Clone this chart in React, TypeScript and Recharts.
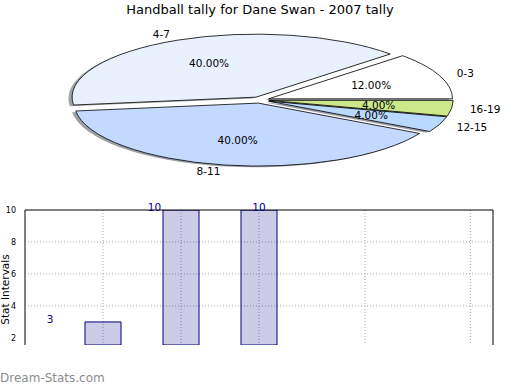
import { BarChart, Bar, XAxis, YAxis, CartesianGrid, ReferenceLine, LabelList, Label, PieChart, Pie, Cell } from 'recharts';

// pie: tally per interval
const INTERVALS = ['0-3', '4-7', '8-11', '12-15', '16-19'];
const TALLY = [3, 10, 10, 1, 1];
const SLICE_COLORS = ['#ffffff', '#eaf1fe', '#c4d9ff', '#b9d9ff', '#cde88a'];

// bars
const BAR_POS = [1, 2, 3];
const BAR_VALUES = [3, 10, 10];
const Y_TICKS = [2, 4, 6, 8, 10];
const X_GRID = [1, 2, 3, 4.36, 5.71];

const FONT = '"DejaVu Sans", sans-serif';
const RX = 184;
const RY = 63;
const EXPLODE = 0.05;
const RAD = Math.PI / 180;

const pieData = INTERVALS.map((name, i) => ({ name, value: TALLY[i], color: SLICE_COLORS[i] }));
const barData = BAR_POS.map((x, i) => ({ x, value: BAR_VALUES[i] }));

const shade = (hex: string) => {
  const n = parseInt(hex.slice(1), 16);
  const r = Math.round(((n >> 16) & 255) * 0.3);
  const g = Math.round(((n >> 8) & 255) * 0.3);
  const b = Math.round((n & 255) * 0.3);
  return `rgb(${r},${g},${b})`;
};

// elliptical wedge, exploded along its mid angle
const wedge = (props: any, shadow: boolean) => {
  const { cx, cy, startAngle, endAngle, payload } = props;
  const mid = ((startAngle + endAngle) / 2) * RAD;
  let ox = cx + EXPLODE * RX * Math.cos(mid);
  let oy = cy - EXPLODE * RY * Math.sin(mid);
  if (shadow) {
    ox -= 0.02 * RX;
    oy += 0.02 * RY;
  }
  const a0 = startAngle * RAD;
  const a1 = endAngle * RAD;
  const x0 = ox + RX * Math.cos(a0);
  const y0 = oy - RY * Math.sin(a0);
  const x1 = ox + RX * Math.cos(a1);
  const y1 = oy - RY * Math.sin(a1);
  const large = Math.abs(endAngle - startAngle) > 180 ? 1 : 0;
  const sweep = endAngle > startAngle ? 0 : 1;
  const d = `M${ox},${oy} L${x0},${y0} A${RX},${RY} 0 ${large} ${sweep} ${x1},${y1} Z`;
  const color = payload?.color ?? props.fill;
  if (shadow) return <path d={d} fill={shade(color)} fillOpacity={0.5} stroke="none" />;
  return <path d={d} fill={color} stroke="#000" strokeWidth={0.8} strokeLinejoin="round" />;
};

const sliceShape = (props: any) => wedge(props, false);
const shadowShape = (props: any) => wedge(props, true);

const pieLabel = (props: any) => {
  const { cx, cy, midAngle, percent, name } = props;
  const m = midAngle * RAD;
  const c = Math.cos(m);
  const s = Math.sin(m);
  const ox = cx + EXPLODE * RX * c;
  const oy = cy - EXPLODE * RY * s;
  return (
    <g>
      <text x={ox + 1.1 * RX * c} y={oy - 1.1 * RY * s} textAnchor={c >= 0 ? 'start' : 'end'} dominantBaseline="central" fontSize={10.5} fontFamily={FONT} fill="#000">
        {name}
      </text>
      <text x={ox + 0.6 * RX * c} y={oy - 0.6 * RY * s} textAnchor="middle" dominantBaseline="central" fontSize={10.5} fontFamily={FONT} fill="#000">
        {(percent * 100).toFixed(2)}%
      </text>
    </g>
  );
};

const barLabel = (props: any) => {
  const { x, y, width, value, index } = props;
  return (
    <text x={x + width / 2 + (index - 2) * 26.5} y={y + 1} textAnchor="middle" fontSize={10.5} fontFamily={FONT} fill="#000080">
      {value}
    </text>
  );
};

const yTitle = (props: any) => {
  const { viewBox } = props;
  const x = viewBox.x + 9;
  const y = viewBox.y + viewBox.height / 2 + 12;
  return (
    <text x={x} y={y} transform={`rotate(-90 ${x} ${y})`} textAnchor="middle" fontSize={10.5} fontFamily={FONT} fill="#000">
      Stat Intervals
    </text>
  );
};

export default function App() {
  return (
    <div style={{ position: 'absolute', left: 0, top: 0, width: 520, height: 390, background: '#fff', overflow: 'hidden' }}>
      <div style={{ position: 'absolute', top: 2, left: 0, width: 520, textAlign: 'center', fontFamily: FONT, fontSize: 13, color: '#000' }}>
        Handball tally for Dane Swan - 2007 tally
      </div>
      <div style={{ position: 'absolute', top: 0, left: 0 }}>
        <PieChart width={520} height={190} margin={{ top: 0, right: 0, bottom: 0, left: 0 }}>
          <Pie data={pieData} dataKey="value" nameKey="name" cx={260} cy={100} outerRadius={RX} startAngle={0} endAngle={360}
            isAnimationActive={false} label={false} labelLine={false}
            shape={shadowShape} activeShape={shadowShape} inactiveShape={shadowShape}>
            {pieData.map((d, i) => <Cell key={`s-${i}`} fill={d.color} />)}
          </Pie>
          <Pie data={pieData} dataKey="value" nameKey="name" cx={260} cy={100} outerRadius={RX} startAngle={0} endAngle={360}
            isAnimationActive={false} label={pieLabel} labelLine={false}
            shape={sliceShape} activeShape={sliceShape} inactiveShape={sliceShape}>
            {pieData.map((d, i) => <Cell key={`c-${i}`} fill={d.color} />)}
          </Pie>
        </PieChart>
      </div>
      <div style={{ position: 'absolute', top: 195, left: 0 }}>
        <BarChart width={520} height={150} data={barData} margin={{ top: 15, right: 27, bottom: 0, left: 0 }}>
          <CartesianGrid stroke="#aaa" strokeDasharray="1 2" verticalValues={X_GRID} horizontalValues={[2, 4, 6, 8]} />
          <XAxis dataKey="x" type="number" domain={[0, 6]} ticks={X_GRID} hide />
          <YAxis type="number" domain={[1.56, 10]} allowDataOverflow ticks={Y_TICKS} width={25}
            tickLine={false} tickMargin={3} axisLine={{ stroke: '#000' }}
            tick={{ fontSize: 8, fontFamily: FONT, fill: '#000' }}>
            <Label content={yTitle} />
          </YAxis>
          <ReferenceLine y={10} stroke="#000" />
          <ReferenceLine x={6} stroke="#000" />
          <Bar dataKey="value" barSize={36} fill="#000080" fillOpacity={0.2} stroke="#000080" strokeOpacity={1} isAnimationActive={false}>
            <LabelList dataKey="value" content={barLabel} />
          </Bar>
        </BarChart>
      </div>
      <div style={{ position: 'absolute', top: 371, left: 0, fontFamily: FONT, fontSize: 12, color: '#8c8c8c' }}>
        Dream-Stats.com
      </div>
    </div>
  );
}
